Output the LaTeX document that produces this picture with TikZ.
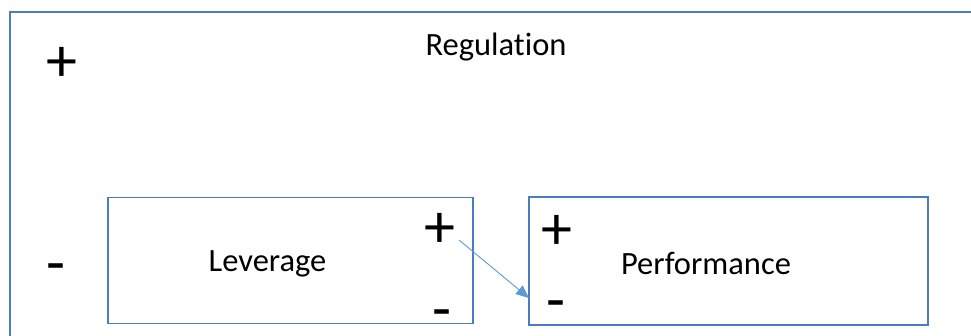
\documentclass[tikz,border=0pt]{standalone}
\usepackage{fontspec}
\setmainfont[RawFeature={-liga;-clig;-dlig}]{Carlito}
\usetikzlibrary{arrows.meta}
\definecolor{boxblue}{HTML}{4A7EBB}
\definecolor{arrowblue}{HTML}{5B9BD5}
\tikzset{
  boxline/.style={draw=boxblue, line width=1.9pt},
  lbl/.style={font=\fontsize{32.5}{36}\selectfont, inner sep=0pt, text=black},
  sign/.style={font=\fontsize{62}{66}\selectfont, inner sep=0pt, text=black, anchor=base},
  conn/.style={draw=arrowblue, line width=0.9pt, -{Triangle[length=13pt,width=11pt]}}
}
\begin{document}
\begin{tikzpicture}[x=1pt,y=-1pt]
\useasboundingbox (0,0) rectangle (971,335);
\clip (0,0) rectangle (971,335);
\fill[white] (0,0) rectangle (971,335);
% outer regulation box (cut off at right and bottom)
\draw[boxline] (10,12) rectangle (1000,360);
\node[lbl] (reg) at (496,47) {Regulation};
\node[sign] (rp) at (61.5,81) {+};
\node[sign] (rm) at (55.5,283) {-};
% leverage
\node[boxline, minimum width=365pt, minimum height=126pt, inner sep=0pt] (lev) at (290.5,260.5) {};
\node[lbl] at (267.5,264) {Leverage};
\node[sign] (lp) at (439.5,247) {+};
\node[sign] (lm) at (441.5,329) {-};
% performance
\node[boxline, minimum width=399pt, minimum height=128pt, inner sep=0pt] (perf) at (728.5,261) {};
\node[lbl] at (706,263) {Performance};
\node[sign] (pp) at (556.5,249) {+};
\node[sign] (pm) at (556,320) {-};
% connector
\coordinate (a1) at (459,240);
\coordinate (a2) at (529,298);
\draw[conn] (a1) -- (a2);
\end{tikzpicture}
\end{document}
